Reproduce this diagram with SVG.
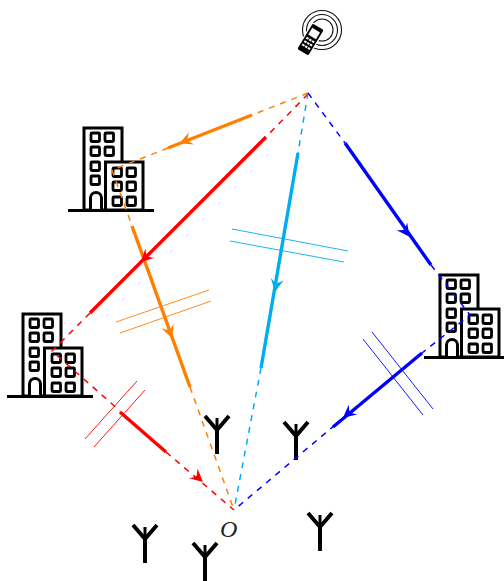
<svg xmlns="http://www.w3.org/2000/svg" width="504" height="581" viewBox="0 0 504 581">
<style>
.d{fill:none;stroke-width:1.5;stroke-dasharray:6 6}
.s{fill:none;stroke-width:3.4;stroke-linecap:butt}
.h{fill:none;stroke-width:.9}
.r{stroke:#f00}.o{stroke:#ff8000}.c{stroke:#00aeef}.b{stroke:#00f}
.bd{fill:#fff;stroke:#000;stroke-width:3}
.w{fill:#fff;stroke:#000;stroke-width:2.8}
.ant{fill:none;stroke:#000;stroke-width:4}
</style>
<defs>
<g id="bld">
<rect class="bd" x="84" y="128" width="38" height="82"/>
<path class="bd" d="M90.500 210V198a5.500 5.500 0 0 1 11 0V210"/>
<rect class="w" x="91" y="133" width="8.500" height="8.500" rx="1"/><rect class="w" x="105" y="133" width="8.500" height="8.500" rx="1"/>
<rect class="w" x="91" y="147" width="8.500" height="8.500" rx="1"/><rect class="w" x="105" y="147" width="8.500" height="8.500" rx="1"/>
<rect class="w" x="91" y="162" width="8.500" height="8.500" rx="1"/><rect class="w" x="91" y="176" width="8.500" height="8.500" rx="1"/>
<rect class="bd" x="105.500" y="162" width="37.500" height="48"/>
<rect class="w" x="113" y="168" width="8.500" height="8.500" rx="1"/><rect class="w" x="127" y="168" width="8.500" height="8.500" rx="1"/>
<rect class="w" x="113" y="182" width="8.500" height="8.500" rx="1"/><rect class="w" x="127" y="182" width="8.500" height="8.500" rx="1"/>
<rect class="w" x="113" y="197" width="8.500" height="8.500" rx="1"/><rect class="w" x="127" y="197" width="8.500" height="8.500" rx="1"/>
<path d="M68 210.500H154" fill="none" stroke="#000" stroke-width="3"/>
</g>
<g id="ant"><path class="ant" d="M0 0V-24M-12 -38L0 -24L12 -38"/><path d="M0 -24V-36" fill="none" stroke="#000" stroke-width="3"/></g>
<path id="ah" d="M6 0L-7 -6.500Q-3 -1.500 -3 0Q-3 1.500 -7 6.500Z"/>
</defs>
<g id="phone">
<g fill="none" stroke="#111" stroke-width="1.1"><circle cx="322" cy="30" r="19.500"/><circle cx="322" cy="30" r="15.500"/><circle cx="322" cy="30" r="11"/></g>
<g transform="rotate(31 310.500 39.500)">
<rect x="303.500" y="24" width="14" height="31" rx="2" fill="#000" stroke="#fff" stroke-width="1.200"/>
<rect x="306" y="28.500" width="9" height="8" fill="#fff"/>
<g fill="#fff"><rect x="306" y="39" width="2.500" height="2"/><rect x="309.300" y="39" width="2.500" height="2"/><rect x="312.600" y="39" width="2.500" height="2"/><rect x="306" y="43" width="2.500" height="2"/><rect x="309.300" y="43" width="2.500" height="2"/><rect x="312.600" y="43" width="2.500" height="2"/><rect x="306" y="47" width="2.500" height="2"/><rect x="309.300" y="47" width="2.500" height="2"/><rect x="312.600" y="47" width="2.500" height="2"/></g>
</g>
</g>
<g id="building-1"><use href="#bld"/></g>
<g id="building-2"><use href="#bld" transform="translate(-61 186)"/></g>
<g id="building-3"><use href="#bld" transform="translate(356 147)"/></g>
<g id="antennas">
<use href="#ant" transform="translate(217 454)"/>
<use href="#ant" transform="translate(296 460)"/>
<use href="#ant" transform="translate(320 551)"/>
<use href="#ant" transform="translate(145 563)"/>
<use href="#ant" transform="translate(205 581)"/>
</g>
<g id="connectors">
<path class="d r" d="M308 94L266 137M90 313L52 351L120 411M166 452L234 510"/>
<path class="s r" d="M266 137L90 313M120 412L166 452"/>
<path class="d o" d="M308 93L252 115M168 148L112 170L132 226M190 387L234 510"/>
<path class="s o" d="M252 115L168 148M132 226L190 387"/>
<path class="d c" d="M308 93L298 153M261 368L234 510"/>
<path class="s c" d="M298 153L261 368"/>
<path class="d b" d="M308 93L345 143M431 265L470 315L422 353M335 425L234 510"/>
<path class="s b" d="M345 143L431 265M422 353L333 427"/>
<path class="h r" d="M85 439L137 381M94 447L145 390"/>
<path class="h o" d="M116 322L209 290M120 333L211 301"/>
<path class="h c" d="M232 229L348 251M230 241L344 262"/>
<path class="h b" d="M363 339L423 415M372 332L433 409"/>
<use href="#ah" fill="#ff8000" transform="translate(185 141) rotate(158)"/>
<use href="#ah" fill="#f00" transform="translate(145 258) rotate(135)"/>
<use href="#ah" fill="#ff8000" transform="translate(170 332.500) rotate(70)"/>
<use href="#ah" fill="#00aeef" transform="translate(276 286) rotate(100)"/>
<use href="#ah" fill="#00f" transform="translate(406 232) rotate(54)"/>
<use href="#ah" fill="#00f" transform="translate(347.600 414) rotate(140)"/>
<use href="#ah" fill="#f00" transform="translate(198.500 478) rotate(41)"/>
</g>
<text id="o" x="220" y="537" font-family="'Liberation Serif',serif" font-style="italic" font-size="24" fill="#222">O</text>
</svg>
